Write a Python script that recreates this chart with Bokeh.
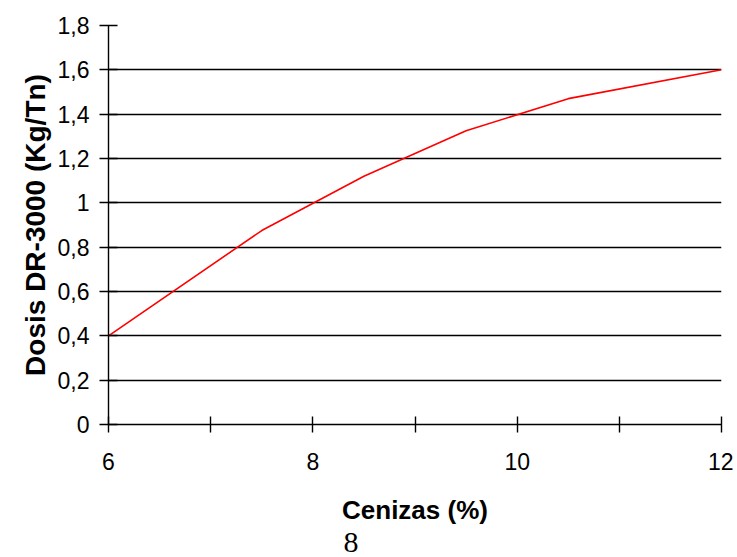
from bokeh.plotting import figure
from bokeh.models import FixedTicker, CustomJSTickFormatter, Title
from bokeh.embed import file_html
from bokeh.resources import INLINE

# Data
cenizas = [6, 7.5, 8.5, 9.5, 10.5, 12]
dosis = [0.40, 0.875, 1.12, 1.325, 1.47, 1.60]

x_major_ticks = [6, 8, 10, 12]
x_minor_ticks = [7, 9, 11]
y_ticks = [0, 0.2, 0.4, 0.6, 0.8, 1.0, 1.2, 1.4, 1.6, 1.8]

x_label = "Cenizas (%)"
y_label = "Dosis DR-3000 (Kg/Tn)"
page_number = "8"

FONT = "Liberation Sans"

p = figure(width=733, height=557, x_range=(6, 12), y_range=(0, 1.8),
           output_backend="svg", toolbar_location=None,
           min_border_left=108, min_border_right=12,
           min_border_top=25, min_border_bottom=133)

p.outline_line_color = None
p.background_fill_color = "white"
p.border_fill_color = "white"

# grid
p.xgrid.visible = False
p.ygrid.ticker = FixedTicker(ticks=y_ticks)
p.ygrid.grid_line_color = "black"
p.ygrid.grid_line_width = 1.4

# line
p.line(cenizas, dosis, line_color="#ff0000", line_width=1.6)

# x axis
xa = p.xaxis[0]
xa.ticker = FixedTicker(ticks=x_major_ticks, minor_ticks=x_minor_ticks)
xa.axis_line_color = "black"
xa.axis_line_width = 1.4
xa.major_tick_in = 8
xa.major_tick_out = 8
xa.minor_tick_in = 8
xa.minor_tick_out = 8
xa.major_tick_line_color = "black"
xa.minor_tick_line_color = "black"
xa.major_tick_line_width = 1.4
xa.minor_tick_line_width = 1.4
xa.major_label_text_font = FONT
xa.major_label_text_font_size = "23px"
xa.major_label_text_color = "black"
xa.major_label_standoff = 20
xa.axis_label = x_label
xa.axis_label_text_font = FONT
xa.axis_label_text_font_size = "26px"
xa.axis_label_text_font_style = "bold"
xa.axis_label_text_color = "black"
xa.axis_label_standoff = 22

# y axis
ya = p.yaxis[0]
ya.ticker = FixedTicker(ticks=y_ticks)
ya.formatter = CustomJSTickFormatter(code="""
    const v = Math.round(tick * 10) / 10;
    return v.toString().replace('.', ',');
""")
ya.axis_line_color = "black"
ya.axis_line_width = 1.4
ya.major_tick_in = 9
ya.major_tick_out = 9
ya.minor_tick_in = 0
ya.minor_tick_out = 0
ya.major_tick_line_color = "black"
ya.major_tick_line_width = 1.6
ya.major_label_text_font = FONT
ya.major_label_text_font_size = "23px"
ya.major_label_text_color = "black"
ya.major_label_standoff = 10
ya.axis_label = y_label
ya.axis_label_text_font = FONT
ya.axis_label_text_font_size = "28px"
ya.axis_label_text_font_style = "bold"
ya.axis_label_text_color = "black"
ya.axis_label_standoff = 4

# page number below the chart
p.add_layout(Title(text=page_number, align="left", offset=235, standoff=6,
                   text_font="Liberation Serif", text_font_size="30px",
                   text_font_style="normal", text_color="black"), "below")

open("out.html", "w").write(file_html(p, INLINE))
